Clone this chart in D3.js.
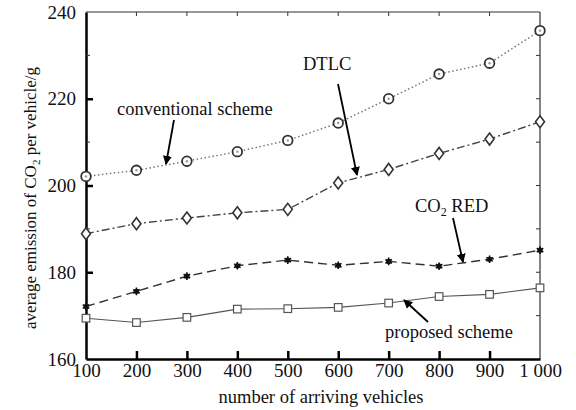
<!DOCTYPE html>
<html>
<head>
<meta charset="utf-8">
<script src="https://cdn.jsdelivr.net/npm/d3@7"></script>
<style>
body { margin: 0; background: #fff; }
text { font-family: "Liberation Serif", "Times New Roman", serif; fill: #111; }
</style>
</head>
<body>
<div id="chart"></div>
<script>
var vehicles = [100, 200, 300, 400, 500, 600, 700, 800, 900, 1000];
var conventional = [202.1, 203.5, 205.6, 207.8, 210.4, 214.4, 220.0, 225.7, 228.2, 235.7];
var dtlc = [188.9, 191.2, 192.5, 193.7, 194.5, 200.6, 203.7, 207.4, 210.7, 214.7];
var co2red = [172.1, 175.6, 179.1, 181.5, 182.8, 181.6, 182.5, 181.4, 183.0, 185.1];
var proposed = [169.4, 168.4, 169.6, 171.5, 171.6, 171.9, 172.9, 174.4, 174.9, 176.4];
var xTickLabels = ["100", "200", "300", "400", "500", "600", "700", "800", "900", "1 000"];
var yTicks = [160, 180, 200, 220, 240];

var width = 576, height = 410;
var margin = {top: 12, right: 36, bottom: 51, left: 86};

var svg = d3.select('#chart').append('svg')
    .attr('width', width)
    .attr('height', height);

var x = d3.scaleLinear().domain([100, 1000]).range([margin.left, width - margin.right]);
var y = d3.scaleLinear().domain([160, 240]).range([height - margin.bottom, margin.top]);

// frame: top + right thin
svg.append('line').attr('x1', x(100)).attr('x2', x(1000)).attr('y1', y(240)).attr('y2', y(240))
    .attr('stroke', '#333').attr('stroke-width', 1.2);
svg.append('line').attr('x1', x(1000)).attr('x2', x(1000)).attr('y1', y(240)).attr('y2', y(160))
    .attr('stroke', '#333').attr('stroke-width', 1.2);

// top ticks
svg.append('g').selectAll('line').data(vehicles.slice(1, -1)).enter().append('line')
    .attr('x1', d => x(d)).attr('x2', d => x(d))
    .attr('y1', y(240)).attr('y2', y(240) + 4)
    .attr('stroke', '#333').attr('stroke-width', 1);
// right ticks
svg.append('g').selectAll('line').data(d3.range(170, 240, 10)).enter().append('line')
    .attr('x1', x(1000)).attr('x2', x(1000) - 4)
    .attr('y1', d => y(d)).attr('y2', d => y(d))
    .attr('stroke', '#333').attr('stroke-width', 1);

// bottom axis
var xAxis = d3.axisBottom(x).tickValues(vehicles).tickSize(-8).tickSizeOuter(0)
    .tickFormat((d, i) => xTickLabels[i]).tickPadding(5);
var gx = svg.append('g').attr('transform', 'translate(0,' + y(160) + ')').call(xAxis);
gx.select('.domain').attr('stroke', '#000').attr('stroke-width', 2.5);
gx.selectAll('.tick line').attr('stroke', '#000').attr('stroke-width', 2.5);
gx.selectAll('.tick').filter(d => d === 100 || d === 1000).select('line').remove();
gx.selectAll('.tick text').attr('font-size', 19).attr('fill', '#111');

// left axis
var yAxis = d3.axisLeft(y).tickValues(yTicks).tickSize(-7).tickSizeOuter(0).tickPadding(10);
var gy = svg.append('g').attr('transform', 'translate(' + x(100) + ',0)').call(yAxis);
gy.select('.domain').attr('stroke', '#000').attr('stroke-width', 2.5);
gy.selectAll('.tick line').attr('stroke', '#000').attr('stroke-width', 2.5);
gy.selectAll('.tick').filter(d => d === 160 || d === 240).select('line').remove();
gy.selectAll('.tick text').attr('font-size', 19).attr('fill', '#111');
// minor left ticks
svg.append('g').selectAll('line').data([170, 190, 210, 230]).enter().append('line')
    .attr('x1', x(100)).attr('x2', x(100) + 4)
    .attr('y1', d => y(d)).attr('y2', d => y(d))
    .attr('stroke', '#333').attr('stroke-width', 1);

// series
var series = [
    {name: 'conventional', values: conventional, dash: '1.5,2.5', color: '#777', width: 1.5, marker: 'circle'},
    {name: 'dtlc', values: dtlc, dash: '8,3,2,3', color: '#444', width: 1.4, marker: 'diamond'},
    {name: 'co2red', values: co2red, dash: '9,5', color: '#333', width: 1.4, marker: 'star'},
    {name: 'proposed', values: proposed, dash: null, color: '#555', width: 1.1, marker: 'square'}
];

var line = d3.line().x((d, i) => x(vehicles[i])).y(d => y(d));

series.forEach(function(s) {
    svg.append('path')
        .datum(s.values)
        .attr('d', line)
        .attr('fill', 'none')
        .attr('stroke', s.color)
        .attr('stroke-width', s.width)
        .attr('stroke-dasharray', s.dash);
    var g = svg.append('g');
    s.values.forEach(function(v, i) {
        var cx = x(vehicles[i]), cy = y(v);
        if (s.marker === 'circle') {
            g.append('circle').attr('cx', cx).attr('cy', cy).attr('r', 4.8)
                .attr('fill', '#fff').attr('stroke', '#333').attr('stroke-width', 1.8);
            g.append('circle').attr('cx', cx).attr('cy', cy).attr('r', 1.2).attr('fill', '#999');
        } else if (s.marker === 'diamond') {
            g.append('path').attr('d', 'M' + cx + ',' + (cy - 6) + 'L' + (cx + 4.5) + ',' + cy + 'L' + cx + ',' + (cy + 6) + 'L' + (cx - 4.5) + ',' + cy + 'Z')
                .attr('fill', '#fff').attr('stroke', '#333').attr('stroke-width', 1.6);
        } else if (s.marker === 'star') {
            g.append('path').attr('d', d3.symbol().type(d3.symbolAsterisk).size(40)())
                .attr('transform', 'translate(' + cx + ',' + cy + ')')
                .attr('fill', 'none').attr('stroke', '#111').attr('stroke-width', 1.6);
            g.append('circle').attr('cx', cx).attr('cy', cy).attr('r', 2.6).attr('fill', '#111');
        } else {
            g.append('rect').attr('x', cx - 3.8).attr('y', cy - 3.8).attr('width', 7.6).attr('height', 7.6)
                .attr('fill', '#fff').attr('stroke', '#555').attr('stroke-width', 1.2);
        }
    });
});

// arrows
svg.append('defs').append('marker')
    .attr('id', 'arrow').attr('viewBox', '0 0 10 10').attr('refX', 9).attr('refY', 5)
    .attr('markerWidth', 5).attr('markerHeight', 6).attr('orient', 'auto')
    .attr('markerUnits', 'strokeWidth')
    .append('path').attr('d', 'M0,0L10,5L0,10Z').attr('fill', '#000');

var notes = [
    {text: 'conventional scheme', tx: 117, ty: 115, from: [174, 120], to: [166, 164]},
    {text: 'DTLC', tx: 303, ty: 70, from: [338, 84], to: [357, 175]},
    {text: 'proposed scheme', tx: 385, ty: 338, from: [428, 322], to: [404, 300]}
];
notes.forEach(function(n) {
    svg.append('text').attr('x', n.tx).attr('y', n.ty).attr('font-size', 18.5).text(n.text);
    svg.append('line').attr('x1', n.from[0]).attr('y1', n.from[1]).attr('x2', n.to[0]).attr('y2', n.to[1])
        .attr('stroke', '#000').attr('stroke-width', 1.8).attr('marker-end', 'url(#arrow)');
});
var co2 = svg.append('text').attr('x', 415).attr('y', 212).attr('font-size', 18.5);
co2.append('tspan').text('CO');
co2.append('tspan').attr('font-size', 12).attr('dy', 4).text('2');
co2.append('tspan').attr('dy', -4).text(' RED');
svg.append('line').attr('x1', 453).attr('y1', 218).attr('x2', 463).attr('y2', 262)
    .attr('stroke', '#000').attr('stroke-width', 1.8).attr('marker-end', 'url(#arrow)');

// axis titles
svg.append('text').attr('x', (x(100) + x(1000)) / 2 + 8).attr('y', 403)
    .attr('text-anchor', 'middle').attr('font-size', 18.5).text('number of arriving vehicles');
var yl = svg.append('text').attr('transform', 'translate(36,' + 198 + ') rotate(-90)')
    .attr('text-anchor', 'middle').attr('font-size', 17);
yl.append('tspan').text('average emission of CO');
yl.append('tspan').attr('font-size', 11).attr('dy', 4).text('2');
yl.append('tspan').attr('dy', -4).text(' per vehicle/g');
</script>
</body>
</html>
